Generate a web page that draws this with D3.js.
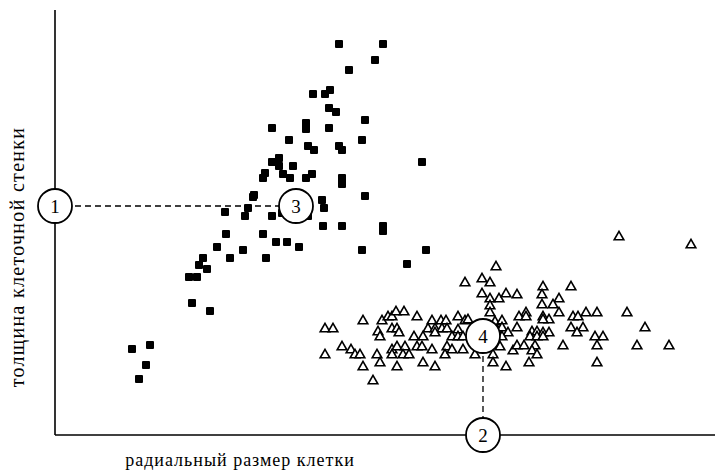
<!DOCTYPE html>
<html><head><meta charset="utf-8">
<script src="https://cdn.jsdelivr.net/npm/d3@7"></script>
<style>body{margin:0;background:#fff}svg{display:block}</style>
</head><body>
<script>
// filled squares: [radial size, wall thickness]
const squares = [
[217,307],[234,295],[224,277],[217,273],[224,269],[238,269],[210,262],[208,257],[228,261],[235,257],
[284,391],[328,391],[320,375],[294,365],[258,341],[270,341],[275,345],[274,327],[281,323],[310,315],
[251,312],[251,306],[274,307],[307,295],[253,289],[259,285],[284,289],[287,285],[251,257],[257,261],
[287,257],[287,251],[367,273],[198,238],[193,227],[190,219],[170,223],[217,219],[171,201],[208,201],
[162,188],[188,185],[221,193],[232,193],[244,188],[148,177],[144,170],[152,166],[175,177],[211,177],
[134,158],[142,158],[137,132],[155,124],[77,86],[95,90],[91,70],[84,56],[267,235],[269,227],
[310,239],[227,222],[253,219],[268,209],[287,209],[328,209],[328,204],[307,185],[371,185],[352,171],[199,240]
];
// open triangles
const triangles = [
[441,168],[427,156],[435,152],[410,152],[427,141],[435,136],[444,136],[451,141],[435,129],[435,122],
[270,106],[278,106],[308,114],[327,114],[333,118],[337,118],[341,123],[349,123],[362,118],[377,114],
[386,114],[391,114],[403,118],[410,114],[413,115],[323,103],[325,98],[337,106],[342,106],[344,102],
[373,106],[380,106],[387,106],[392,106],[403,105],[380,102],[359,98],[368,98],[397,98],[403,98],
[408,98],[287,88],[296,85],[300,80],[305,80],[270,80],[322,80],[337,85],[337,80],[342,88],
[350,88],[348,80],[354,80],[362,88],[367,88],[377,85],[392,88],[390,80],[397,85],[408,85],
[420,80],[438,80],[445,88],[308,68],[325,72],[342,68],[368,72],[380,68],[438,72],[451,68],
[318,54],[440,113],[447,114],[442,105],
[564,198],[636,190],[488,148],[516,148],[462,140],[487,140],[504,136],[487,130],[498,130],[504,122],
[471,122],[464,118],[471,118],[488,118],[494,115],[488,115],[518,118],[523,118],[531,122],[542,122],
[572,122],[447,107],[462,107],[453,102],[477,103],[482,103],[488,102],[494,102],[475,98],[482,98],
[488,98],[516,107],[528,107],[522,102],[540,98],[548,98],[590,107],[447,98],[458,84],[462,89],
[469,89],[480,89],[477,84],[482,80],[508,89],[542,89],[582,89],[614,89],[474,72],[542,72]
];
// numbered markers: [label, x, y]
const markers = [["1",0,229],["2",428,0],["3",241,229],["4",428,99]];
const xLabel = "радиальный размер клетки";
const yLabel = "толщина клеточной стенки";

const W=719,H=472;
const svg=d3.select("body").append("svg").attr("width",W).attr("height",H);
const x=d3.scaleLinear().domain([0,660]).range([55,715]);
const y=d3.scaleLinear().domain([0,425]).range([435,10]);
const font="'Liberation Serif','Times New Roman',serif";

// axes
svg.append("line").attr("x1",x(0)).attr("x2",x(0)).attr("y1",y(425)).attr("y2",y(0)).attr("stroke","#000").attr("stroke-width",1.6);
svg.append("line").attr("x1",x(0)).attr("x2",x(660)).attr("y1",y(0)).attr("y2",y(0)).attr("stroke","#000").attr("stroke-width",1.6);

// points
svg.append("g").selectAll("rect").data(squares).join("rect")
  .attr("x",d=>x(d[0])-4).attr("y",d=>y(d[1])-4).attr("width",8).attr("height",8).attr("rx",1)
  .attr("fill","#000");
const tri=d3.symbol().type(d3.symbolTriangle).size(40);
svg.append("g").selectAll("path").data(triangles).join("path")
  .attr("d",tri).attr("transform",d=>`translate(${x(d[0])},${y(d[1])})`)
  .attr("fill","#fff").attr("stroke","#000").attr("stroke-width",1.6);

// dashed guide lines
const m=Object.fromEntries(markers.map(d=>[d[0],d]));
svg.append("line").attr("x1",x(m["1"][1])).attr("x2",x(m["3"][1])).attr("y1",y(m["1"][2])).attr("y2",y(m["3"][2]))
  .attr("stroke","#000").attr("stroke-width",1.3).attr("stroke-dasharray","6,4");
svg.append("line").attr("x1",x(m["4"][1])).attr("x2",x(m["2"][1])).attr("y1",y(m["4"][2])).attr("y2",y(m["2"][2]))
  .attr("stroke","#000").attr("stroke-width",1.3).attr("stroke-dasharray","6,4");

// markers
const mg=svg.append("g").selectAll("g").data(markers).join("g")
  .attr("transform",d=>`translate(${x(d[1])},${y(d[2])})`);
mg.append("circle").attr("r",17).attr("fill","#fff").attr("stroke","#000").attr("stroke-width",1.8);
mg.append("text").text(d=>d[0]).attr("text-anchor","middle").attr("dy","0.35em")
  .attr("font-family",font).attr("font-size",19).attr("fill","#000");

// axis labels
svg.append("text").text(xLabel).attr("x",240).attr("y",472-6).attr("text-anchor","middle")
  .attr("font-family",font).attr("font-size",18).attr("letter-spacing",1.0).attr("fill","#000");
svg.append("text").text(yLabel).attr("transform","translate(24,257) rotate(-90)").attr("text-anchor","middle")
  .attr("font-family",font).attr("font-size",20).attr("letter-spacing",1.3).attr("fill","#000");
</script>
</body></html>
